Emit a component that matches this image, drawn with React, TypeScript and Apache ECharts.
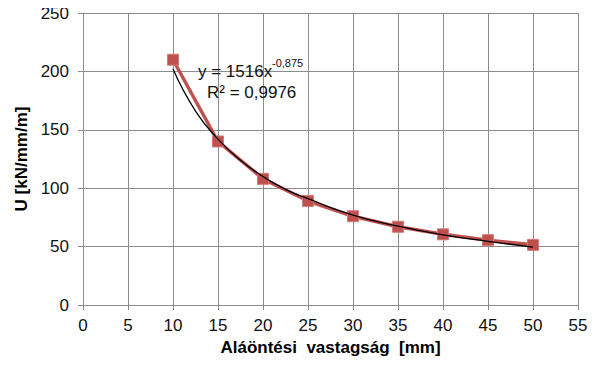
import React, { useEffect, useRef } from "react";
import * as echarts from "echarts";

const thickness = [10, 15, 20, 25, 30, 35, 40, 45, 50];
const stiffness = [210, 140, 108, 89, 76, 67, 60.5, 55.5, 51.5];
const trendX = [10, 12.5, 15, 17.5, 20, 22.5, 25, 30, 35, 40, 45, 50];
const trendY = [202, 166, 142, 124, 110, 99, 91, 77, 67.5, 60, 54.5, 49.5];
const eqMain = "y = 1516x";
const eqExp = "-0,875";
const eqR2 = "R² = 0,9976";

export default function App() {
  const ref = useRef<HTMLDivElement>(null);
  useEffect(() => {
    if (!ref.current) return;
    const chart = echarts.init(ref.current, null, { renderer: "svg" });
    const font = "Liberation Sans, Arial, sans-serif";
    chart.setOption({
      animation: false,
      backgroundColor: "#ffffff",
      textStyle: { fontFamily: font },
      grid: { left: 83, right: 22, top: 13, bottom: 71 },
      xAxis: {
        type: "value",
        min: 0,
        max: 55,
        interval: 5,
        name: "Aláöntési  vastagság  [mm]",
        nameLocation: "middle",
        nameGap: 34,
        nameTextStyle: { fontSize: 17, fontWeight: "bold", color: "#000", fontFamily: font },
        axisLine: { show: true, lineStyle: { color: "#8c8c8c", width: 1 } },
        axisTick: { show: true, length: 5, lineStyle: { color: "#8c8c8c" } },
        axisLabel: { fontSize: 17, color: "#111", margin: 12, fontFamily: font },
        splitLine: { show: true, lineStyle: { color: "#8c8c8c", width: 1 } },
      },
      yAxis: {
        type: "value",
        min: 0,
        max: 250,
        interval: 50,
        name: "U [kN/mm/m]",
        nameLocation: "middle",
        nameGap: 47,
        nameTextStyle: { fontSize: 17, fontWeight: "bold", color: "#000", fontFamily: font },
        axisLine: { show: true, lineStyle: { color: "#8c8c8c", width: 1 } },
        axisTick: { show: true, length: 5, lineStyle: { color: "#8c8c8c" } },
        axisLabel: { fontSize: 17, color: "#111", margin: 14, fontFamily: font },
        splitLine: { show: true, lineStyle: { color: "#8c8c8c", width: 1 } },
      },
      series: [
        {
          type: "line",
          data: thickness.map((x, i) => [x, stiffness[i]]),
          lineStyle: { color: "#c0504d", width: 3.5 },
          itemStyle: { color: "#c0504d", borderColor: "#d27a77", borderWidth: 1 },
          symbol: "rect",
          symbolSize: 11,
          z: 2,
        },
        {
          type: "line",
          data: trendX.map((x, i) => [x, trendY[i]]),
          smooth: 0.5,
          showSymbol: false,
          symbol: "none",
          lineStyle: { color: "#000", width: 1.3 },
          z: 3,
        },
      ],
      graphic: [
        {
          type: "text",
          x: 198,
          y: 71,
          z: 10,
          style: { text: eqMain, fontSize: 17, fontFamily: font, fill: "#111", verticalAlign: "middle" },
        },
        {
          type: "text",
          x: 272,
          y: 63,
          z: 10,
          style: { text: eqExp, fontSize: 11, fontFamily: font, fill: "#111", verticalAlign: "middle" },
        },
        {
          type: "text",
          x: 207,
          y: 92,
          z: 10,
          style: { text: eqR2, fontSize: 17, fontFamily: font, fill: "#111", verticalAlign: "middle" },
        },
      ],
    });
    return () => chart.dispose();
  }, []);
  return <div ref={ref} style={{ width: 600, height: 376, margin: -8 }} />;
}
